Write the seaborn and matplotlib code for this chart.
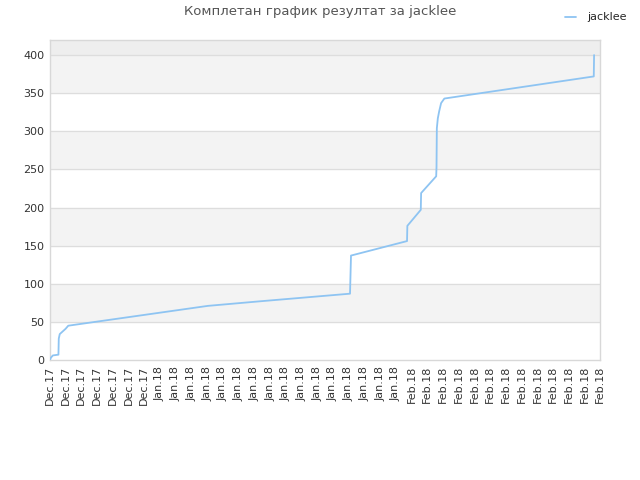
import pandas as pd
import seaborn as sns
import matplotlib.pyplot as plt

# cumulative score for jacklee
times = [
    "2017-12-18 00:00", "2017-12-18 03:00", "2017-12-18 09:00", "2017-12-19 02:00",
    "2017-12-19 03:00", "2017-12-19 06:00", "2017-12-20 00:00", "2017-12-20 08:00",
    "2018-01-07 02:00", "2018-01-13 17:00",
    "2018-01-25 04:00", "2018-01-25 07:00", "2018-02-01 10:00", "2018-02-01 11:00",
    "2018-02-03 04:00", "2018-02-03 05:00", "2018-02-05 03:00", "2018-02-05 04:00",
    "2018-02-05 05:00", "2018-02-05 08:00", "2018-02-05 12:00", "2018-02-05 18:00",
    "2018-02-06 04:00", "2018-02-25 04:00", "2018-02-25 05:00",
]
scores = [
    0, 3, 6, 7,
    28, 34, 41, 45,
    71, 77,
    87, 137, 156, 176,
    197, 219, 241, 253,
    304, 317, 326, 337,
    343, 372, 400,
]
player = "jacklee"
title = "Комплетан график резултат за jacklee"

df = pd.DataFrame({"time": pd.to_datetime(times), "score": scores})

sns.set_style("white")
plt.rcParams['font.family'] = ['DejaVu Sans']

fig = plt.figure(figsize=(6.4, 4.8), dpi=100)
ax = fig.add_axes([0.078, 0.25, 0.86, 0.667])

# alternating bands
for lo in range(50, 400, 100):
    ax.axhspan(lo, lo + 50, color="#f3f3f3", zorder=0)
ax.axhspan(400, 420, color="#eeeeee", zorder=0)
for y in range(50, 450, 50):
    ax.axhline(y, color="#dddddd", lw=0.9, zorder=1)

sns.lineplot(data=df, x="time", y="score", ax=ax, color="#8ec4f2",
             lw=1.3, label=player, zorder=3)

ax.set_xlim(pd.Timestamp("2017-12-18"), pd.Timestamp("2018-02-26"))
ax.set_ylim(0, 420)
ax.set_yticks(range(0, 401, 50))
ticks = pd.date_range("2017-12-18", "2018-02-26", freq="2D")
ax.set_xticks(ticks)
ax.set_xticklabels([t.strftime("%b.%y") for t in ticks], rotation=90)
ax.tick_params(axis="both", length=0, labelsize=8, labelcolor="#333333", pad=4)
ax.set_xlabel("")
ax.set_ylabel("")
for s in ax.spines.values():
    s.set_color("#d8d8d8")
    s.set_linewidth(1)

ax.legend_.remove()
fig.legend(loc="upper right", bbox_to_anchor=(0.995, 0.995), frameon=False,
           fontsize=8, handlelength=1.0, handletextpad=1.0)
fig.suptitle(title, x=0.5, y=0.99, fontsize=9.5, color="#555555")

fig.savefig("out.png", dpi=100)
